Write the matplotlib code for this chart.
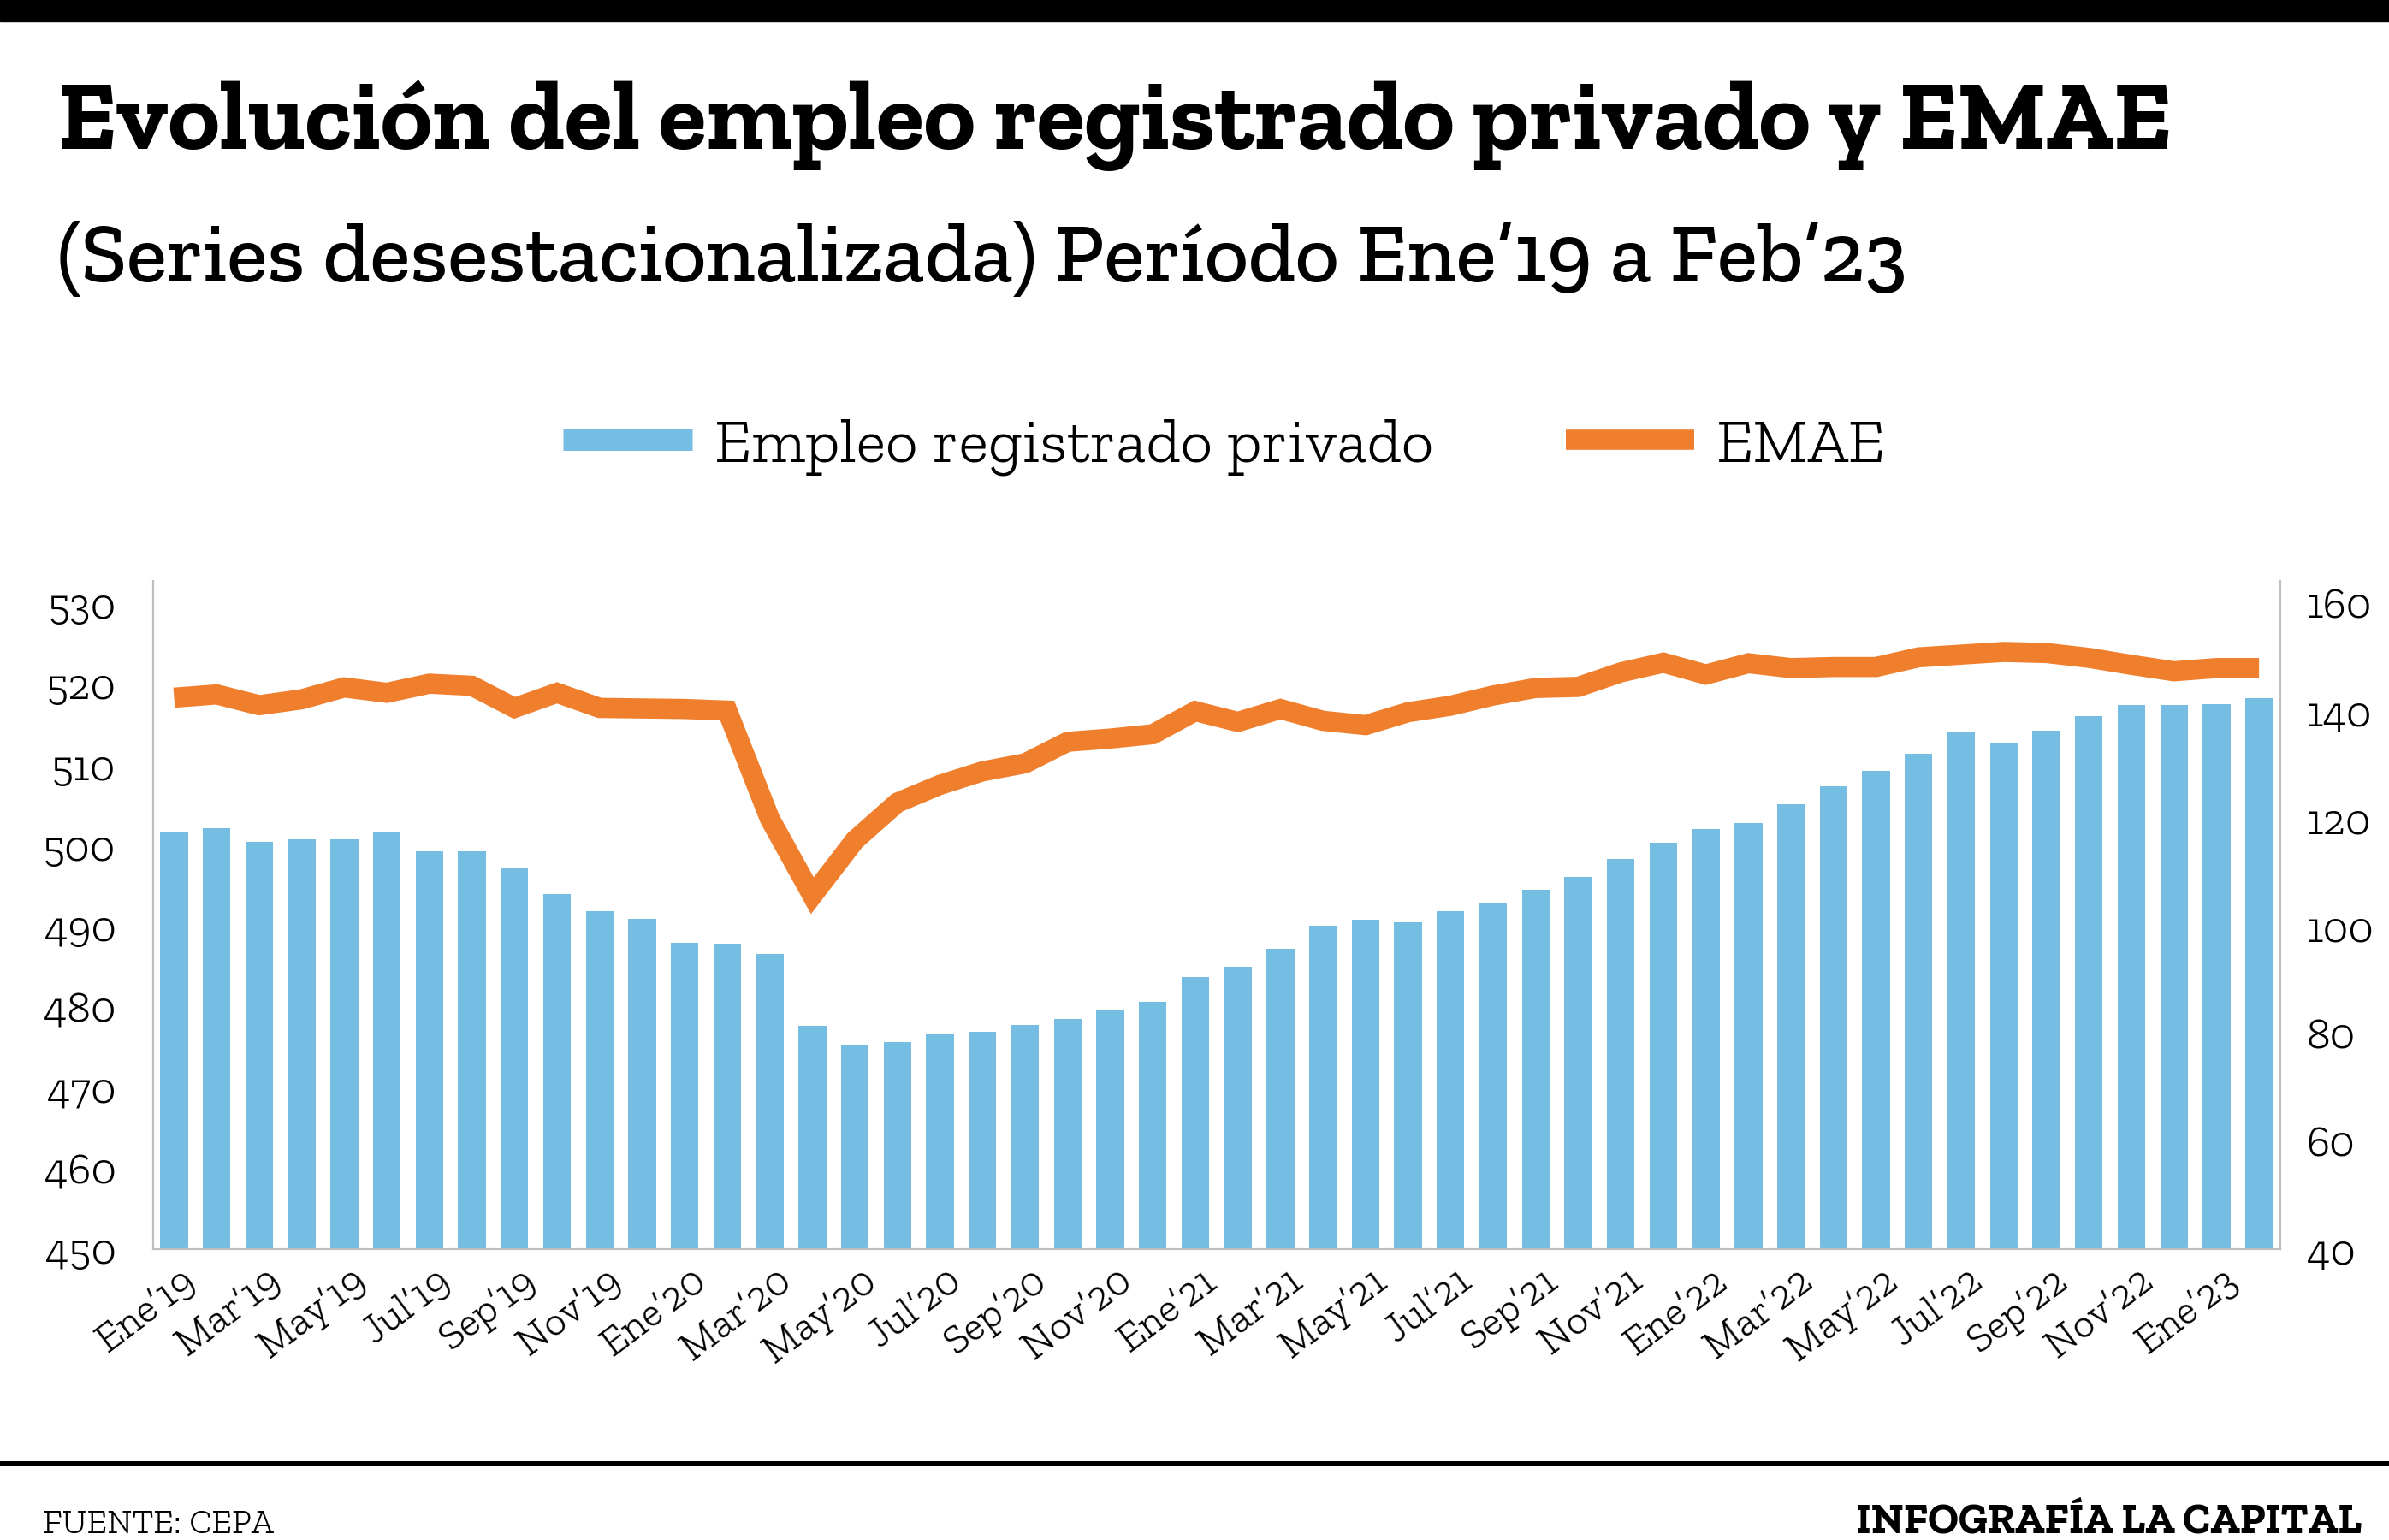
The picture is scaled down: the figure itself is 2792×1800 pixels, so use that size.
import matplotlib
matplotlib.use('Agg')
import matplotlib.pyplot as plt
import matplotlib.transforms as transforms
from matplotlib.lines import Line2D
from matplotlib.patches import Rectangle

# datos (series desestacionalizadas)
meses = ['Ene', 'Feb', 'Mar', 'Abr', 'May', 'Jun', 'Jul', 'Ago', 'Sep', 'Oct', 'Nov', 'Dic']
anios = ['19', '20', '21', '22']
periodos = [m + '’' + a for a in anios for m in meses] + ['Ene’23', 'Feb’23']

empleo = [501.6, 502.2, 500.5, 500.8, 500.8, 501.7, 499.3, 499.3, 497.3, 494.0, 491.9, 490.9,
          488.0, 487.9, 486.6, 477.7, 475.2, 475.7, 476.6, 476.9, 477.8, 478.5, 479.7, 480.6,
          483.7, 485.0, 487.2, 490.1, 490.8, 490.5, 491.9, 492.9, 494.5, 496.1, 498.3, 500.4,
          502.1, 502.8, 505.1, 507.4, 509.3, 511.4, 514.1, 512.7, 514.2, 516.1, 517.4, 517.4,
          517.5, 518.3]

emae = [142.5, 143.1, 141.1, 142.2, 144.4, 143.4, 145.1, 144.7, 140.6, 143.4, 140.6, 140.5,
        140.4, 140.1, 120.0, 105.7, 116.0, 123.0, 126.3, 128.8, 130.3, 134.3, 134.9, 135.7,
        140.0, 138.0, 140.4, 138.2, 137.4, 139.8, 141.0, 142.9, 144.3, 144.5, 147.2, 149.0,
        146.8, 148.9, 148.0, 148.2, 148.2, 150.0, 150.5, 151.0, 150.8, 149.9, 148.6, 147.4,
        148.0, 148.0]

ticks_izq = [450, 460, 470, 480, 490, 500, 510, 520, 530]
ticks_der = [40, 60, 80, 100, 120, 140, 160]

AZUL = '#76BDE4'
NARANJA = '#F07F2D'
GRIS = '#BFBFBF'
SLAB = ['Zilla Slab', 'DejaVu Serif']

W, H = 2792, 1800
fig = plt.figure(figsize=(W / 100, H / 100), dpi=100)
fig.patch.set_facecolor('white')


def fy(px):
    return 1 - px / H


def ajustar(txt, ancho_px):
    # escala el tamaño de letra para que el texto ocupe ancho_px
    r = fig.canvas.get_renderer()
    w = txt.get_window_extent(renderer=r).width
    txt.set_fontsize(txt.get_fontsize() * ancho_px / w)


ax = fig.add_axes([178.6 / W, fy(1460), (2665 - 178.6) / W, (1460 - 679) / H])
x = list(range(len(empleo)))
ax.bar(x, empleo, width=0.65, color=AZUL, zorder=2)
ax.set_xlim(-0.5, len(empleo) - 0.5)
ax.set_ylim(450, 532.8)
ax.set_yticks(ticks_izq)
ax.set_xticks(x[::2])
ax.set_xticklabels(periodos[::2], rotation=37, ha='right', va='top', rotation_mode='anchor')

ax2 = ax.twinx()
ax2.plot(x, emae, color=NARANJA, lw=17, solid_joinstyle='miter', solid_capstyle='butt', zorder=3)
ax2.set_ylim(40, 164.2)
ax2.set_yticks(ticks_der)

for a in (ax, ax2):
    a.spines['top'].set_visible(False)
    for s in ('left', 'right', 'bottom'):
        a.spines[s].set_color(GRIS)
        a.spines[s].set_linewidth(1.5)
    a.tick_params(length=0, labelsize=37)
    for lbl in a.get_xticklabels() + a.get_yticklabels():
        lbl.set_family(SLAB)
        lbl.set_weight(300)
ax.tick_params(axis='y', pad=31)
ax.tick_params(axis='x', pad=11, labelsize=35)
ax2.tick_params(axis='y', pad=22)

off = transforms.ScaledTranslation(8 / 100, 0, fig.dpi_scale_trans)
for lbl in ax.get_xticklabels():
    lbl.set_transform(lbl.get_transform() + off)

# titulos
titulo = fig.text(68 / W, fy(174), 'Evolución del empleo registrado privado y EMAE',
                  family=SLAB, weight=700, fontsize=60, va='baseline')
ajustar(titulo, 2470)
sub = fig.text(67 / W, fy(329), '(Series desestacionalizada) Período Ene’19 a Feb’23',
               family=SLAB, weight=500, fontsize=50, va='baseline')
ajustar(sub, 2160)

# leyenda
handles = [Line2D([], [], color=AZUL, lw=18, solid_capstyle='butt'),
           Line2D([], [], color=NARANJA, lw=17, solid_capstyle='butt')]
fig.legend(handles, ['Empleo registrado privado', 'EMAE'], loc='center',
           bbox_to_anchor=(1431 / W, fy(522)), ncol=2, frameon=False,
           prop={'family': SLAB, 'size': 53, 'weight': 300}, handlelength=2.05,
           handletextpad=0.35, columnspacing=2.1)

# bandas y pie
fig.patches.append(Rectangle((0, fy(25)), 1, 25 / H, transform=fig.transFigure,
                             color='black', zorder=5))
fig.add_artist(Line2D([0, 1], [fy(1710), fy(1710)], transform=fig.transFigure,
                      color='black', lw=3.6))
fuente = fig.text(50 / W, fy(1792), 'FUENTE: CEPA', family=SLAB, weight=300, fontsize=30,
                  va='baseline')
ajustar(fuente, 270)
firma = fig.text(2760 / W, fy(1792), 'INFOGRAFÍA LA CAPITAL', family=SLAB,
                 weight=700, fontsize=28, ha='right', va='baseline')
ajustar(firma, 590)

fig.savefig('out.png', dpi=100)
